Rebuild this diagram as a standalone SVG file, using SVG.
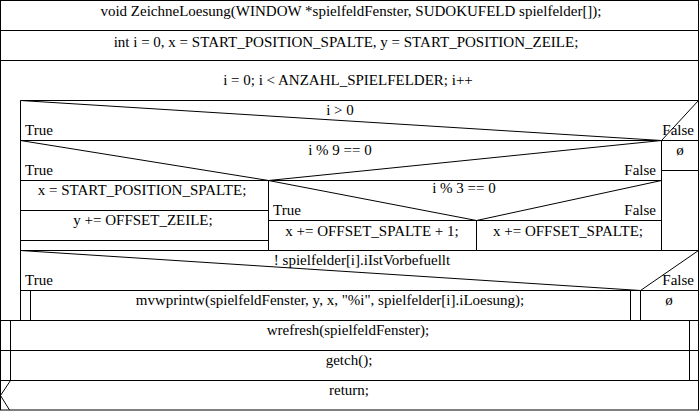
<svg xmlns="http://www.w3.org/2000/svg" width="700" height="411" viewBox="0 0 700 411">
<style>
  .b{fill:none;stroke:#000;stroke-width:1}
  .t{font-family:"Liberation Serif","Times New Roman","DejaVu Serif",serif;font-size:15px;fill:#000}
  .c{text-anchor:middle}
  .r{text-anchor:end}
</style>
<rect width="700" height="411" fill="#fff"/>
<g id="outer"><rect class="b" x="0.5" y="0.5" width="698" height="409.5"/></g>
<g id="header">
  <text class="t c" x="351" y="16">void ZeichneLoesung(WINDOW *spielfeldFenster, SUDOKUFELD spielfelder[]);</text>
  <line class="b" x1="0" y1="30.5" x2="699" y2="30.5"/>
</g>
<g id="init">
  <text class="t c" x="346" y="47">int i = 0, x = START_POSITION_SPALTE, y = START_POSITION_ZEILE;</text>
  <line class="b" x1="0" y1="60.5" x2="699" y2="60.5"/>
</g>
<g id="loop">
  <text class="t c" x="348" y="85">i = 0; i &lt; ANZAHL_SPIELFELDER; i++</text>
  <line class="b" x1="20.5" y1="100.5" x2="699" y2="100.5"/>
  <line class="b" x1="20.5" y1="100.5" x2="20.5" y2="320.5"/>
</g>
<g id="if1">
  <line class="b" x1="20.5" y1="100.5" x2="661.5" y2="140.5"/>
  <line class="b" x1="698.5" y1="100.5" x2="661.5" y2="140.5"/>
  <line class="b" x1="20.5" y1="140.5" x2="699" y2="140.5"/>
  <line class="b" x1="661.5" y1="140.5" x2="661.5" y2="250.5"/>
  <text class="t c" x="340" y="115">i &gt; 0</text>
  <text class="t" x="25" y="135">True</text>
  <text class="t r" x="694" y="135">False</text>
</g>
<g id="if1-false">
  <text class="t c" x="680" y="155" font-size="12">ø</text>
  <line class="b" x1="661.5" y1="170.5" x2="699" y2="170.5"/>
</g>
<g id="if2">
  <line class="b" x1="20.5" y1="140.5" x2="268.5" y2="180.5"/>
  <line class="b" x1="661.5" y1="140.5" x2="268.5" y2="180.5"/>
  <line class="b" x1="20.5" y1="180.5" x2="661.5" y2="180.5"/>
  <line class="b" x1="268.5" y1="180.5" x2="268.5" y2="250.5"/>
  <text class="t c" x="340" y="155">i % 9 == 0</text>
  <text class="t" x="25" y="175">True</text>
  <text class="t r" x="656" y="175">False</text>
</g>
<g id="set-x">
  <text class="t c" x="142" y="195">x = START_POSITION_SPALTE;</text>
  <line class="b" x1="20.5" y1="210.5" x2="268.5" y2="210.5"/>
</g>
<g id="inc-y">
  <text class="t c" x="143" y="225">y += OFFSET_ZEILE;</text>
  <line class="b" x1="20.5" y1="240.5" x2="268.5" y2="240.5"/>
</g>
<g id="if3">
  <line class="b" x1="268.5" y1="180.5" x2="476.5" y2="220.5"/>
  <line class="b" x1="661.5" y1="180.5" x2="476.5" y2="220.5"/>
  <line class="b" x1="268.5" y1="220.5" x2="661.5" y2="220.5"/>
  <line class="b" x1="476.5" y1="220.5" x2="476.5" y2="250.5"/>
  <text class="t c" x="464" y="193">i % 3 == 0</text>
  <text class="t" x="273" y="215">True</text>
  <text class="t r" x="656" y="215">False</text>
</g>
<g id="inc-x1">
  <text class="t c" x="372" y="236">x += OFFSET_SPALTE + 1;</text>
</g>
<g id="inc-x">
  <text class="t c" x="568" y="236">x += OFFSET_SPALTE;</text>
</g>
<g id="if4">
  <line class="b" x1="20.5" y1="250.5" x2="699" y2="250.5"/>
  <line class="b" x1="20.5" y1="250.5" x2="640.5" y2="290.5"/>
  <line class="b" x1="698.5" y1="250.5" x2="640.5" y2="290.5"/>
  <line class="b" x1="20.5" y1="290.5" x2="699" y2="290.5"/>
  <line class="b" x1="640.5" y1="290.5" x2="640.5" y2="320.5"/>
  <text class="t c" x="362" y="265">! spielfelder[i].iIstVorbefuellt</text>
  <text class="t" x="25" y="285">True</text>
  <text class="t r" x="694" y="285">False</text>
</g>
<g id="print">
  <line class="b" x1="30.5" y1="290.5" x2="30.5" y2="320.5"/>
  <line class="b" x1="630.5" y1="290.5" x2="630.5" y2="320.5"/>
  <text class="t c" x="330" y="305">mvwprintw(spielfeldFenster, y, x, "%i", spielfelder[i].iLoesung);</text>
</g>
<g id="if4-false">
  <text class="t c" x="669" y="305" font-size="12">ø</text>
</g>
<g id="wrefresh">
  <line class="b" x1="0" y1="320.5" x2="699" y2="320.5"/>
  <line class="b" x1="10.5" y1="320.5" x2="10.5" y2="380.5"/>
  <line class="b" x1="689.5" y1="320.5" x2="689.5" y2="380.5"/>
  <text class="t c" x="348" y="335">wrefresh(spielfeldFenster);</text>
</g>
<g id="getch">
  <line class="b" x1="0" y1="350.5" x2="699" y2="350.5"/>
  <text class="t c" x="349" y="365">getch();</text>
</g>
<g id="return">
  <line class="b" x1="0" y1="380.5" x2="699" y2="380.5"/>
  <polyline class="b" points="10.5,380.5 0.5,395.5 9.5,410"/>
  <text class="t c" x="349" y="395">return;</text>
</g>
<g id="connectors"></g>
</svg>
